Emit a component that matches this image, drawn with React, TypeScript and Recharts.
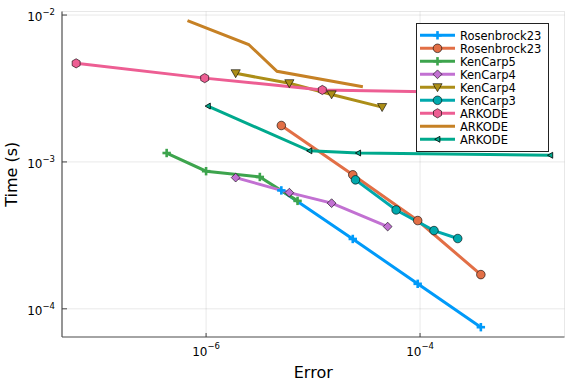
import { CartesianGrid, Legend, Line, LineChart, XAxis, YAxis } from "recharts";

const FONT = "DejaVu Sans, Verdana, sans-serif";

// error (x) / time (y) pairs
const rosenbrockErr = [5.05e-6, 2.35e-5, 9.5e-5, 3.7e-4];
const rosenbrockTimeA = [6.4e-4, 2.99e-4, 1.48e-4, 7.5e-5];
const rosenbrockTimeB = [1.77e-3, 8.17e-4, 3.99e-4, 1.71e-4];
const kenCarp5Err = [4.28e-7, 1.0e-6, 3.18e-6, 7.16e-6];
const kenCarp5Time = [1.15e-3, 8.65e-4, 7.9e-4, 5.43e-4];
const kenCarp4ErrA = [1.89e-6, 6.0e-6, 1.49e-5, 4.98e-5];
const kenCarp4TimeA = [7.82e-4, 6.18e-4, 5.24e-4, 3.63e-4];
const kenCarp4ErrB = [1.89e-6, 6.0e-6, 1.49e-5, 4.42e-5];
const kenCarp4TimeB = [4.01e-3, 3.43e-3, 2.88e-3, 2.36e-3];
const kenCarp3Err = [2.49e-5, 5.97e-5, 1.35e-4, 2.25e-4];
const kenCarp3Time = [7.55e-4, 4.71e-4, 3.41e-4, 3.01e-4];
const arkodeErrA = [6.1e-8, 9.7e-7, 1.22e-5, 3.0e-4];
const arkodeTimeA = [4.69e-3, 3.72e-3, 3.09e-3, 2.97e-3];
const arkodeErrB = [6.7e-7, 2.5e-6, 4.6e-6, 2.92e-5];
const arkodeTimeB = [9.15e-3, 6.3e-3, 4.14e-3, 3.25e-3];
const arkodeErrC = [1.04e-6, 9.25e-6, 2.64e-5, 1.65e-3];
const arkodeTimeC = [2.4e-3, 1.19e-3, 1.15e-3, 1.11e-3];

const xTicks = [1e-6, 1e-4];
const yTicks = [1e-4, 1e-3, 1e-2];
const xDomain = [4.5e-8, 2.239e-3];
const yDomain = [6.43e-5, 1.057e-2];

type Shape = "cross" | "circle" | "diamond" | "dtriangle" | "hexagon" | "ltriangle" | "none";

const series = [
  { name: "Rosenbrock23", err: rosenbrockErr, time: rosenbrockTimeA, color: "#009af9", shape: "cross" },
  { name: "Rosenbrock23", err: rosenbrockErr, time: rosenbrockTimeB, color: "#e26f46", shape: "circle" },
  { name: "KenCarp5", err: kenCarp5Err, time: kenCarp5Time, color: "#3da44d", shape: "cross" },
  { name: "KenCarp4", err: kenCarp4ErrA, time: kenCarp4TimeA, color: "#c271d2", shape: "diamond" },
  { name: "KenCarp4", err: kenCarp4ErrB, time: kenCarp4TimeB, color: "#ac8e18", shape: "dtriangle" },
  { name: "KenCarp3", err: kenCarp3Err, time: kenCarp3Time, color: "#00a9ad", shape: "circle" },
  { name: "ARKODE", err: arkodeErrA, time: arkodeTimeA, color: "#ed5e93", shape: "hexagon" },
  { name: "ARKODE", err: arkodeErrB, time: arkodeTimeB, color: "#c68125", shape: "none" },
  { name: "ARKODE", err: arkodeErrC, time: arkodeTimeC, color: "#00a98d", shape: "ltriangle" },
].map((s) => ({
  ...s,
  shape: s.shape as Shape,
  points: s.err.map((x, i) => ({ x, y: s.time[i] })),
}));

function Marker({ cx, cy, shape, color }: { cx: number; cy: number; shape: Shape; color: string }) {
  const edge = { stroke: "#000", strokeWidth: 0.6 };
  switch (shape) {
    case "cross": {
      const h = 4.2;
      const t = 2.6;
      return (
        <g fill={color}>
          <rect x={cx - h} y={cy - t / 2} width={2 * h} height={t} />
          <rect x={cx - t / 2} y={cy - h} width={t} height={2 * h} />
        </g>
      );
    }
    case "circle":
      return <circle cx={cx} cy={cy} r={4.3} fill={color} {...edge} />;
    case "diamond": {
      const d = 4.4;
      return (
        <polygon
          points={`${cx},${cy - d} ${cx + d},${cy} ${cx},${cy + d} ${cx - d},${cy}`}
          fill={color}
          {...edge}
        />
      );
    }
    case "dtriangle":
      return (
        <polygon
          points={`${cx - 4.6},${cy - 3.6} ${cx + 4.6},${cy - 3.6} ${cx},${cy + 4.4}`}
          fill={color}
          {...edge}
        />
      );
    case "hexagon": {
      const r = 4.6;
      const pts = [0, 1, 2, 3, 4, 5]
        .map((k) => {
          const a = (Math.PI / 3) * k + Math.PI / 6;
          return `${cx + r * Math.cos(a)},${cy + r * Math.sin(a)}`;
        })
        .join(" ");
      return <polygon points={pts} fill={color} {...edge} />;
    }
    case "ltriangle":
      return (
        <polygon
          points={`${cx - 2.8},${cy} ${cx + 2.4},${cy - 3} ${cx + 2.4},${cy + 3}`}
          fill={color}
          stroke="#000"
          strokeWidth={0.8}
        />
      );
    default:
      return null;
  }
}

function XTick({ x, y, payload }: any) {
  const exp = Math.round(Math.log10(payload.value));
  return (
    <g>
      <line x1={x} x2={x} y1={y} y2={y - 4} stroke="#444" />
      <text x={x} y={y + 19} textAnchor="middle" fontFamily={FONT} fontSize={12} fill="#000">
        10
        <tspan dy={-7} fontSize={8.5}>{`\u2212${-exp}`}</tspan>
      </text>
    </g>
  );
}

function YTick({ x, y, payload }: any) {
  const exp = Math.round(Math.log10(payload.value));
  return (
    <g>
      <line x1={x} x2={x + 5} y1={y} y2={y} stroke="#444" />
      <text x={x - 7} y={y + 6} textAnchor="end" fontFamily={FONT} fontSize={12} fill="#000">
        10
        <tspan dy={-6} fontSize={8.5}>{`\u2212${-exp}`}</tspan>
      </text>
    </g>
  );
}

function LegendBox() {
  return (
    <div style={{ background: "#fff", border: "1px solid #222", width: 131, height: 127 }}>
      <svg width={131} height={127}>
        {series.map((s, i) => {
          const cy = 11.3 + i * 13;
          return (
            <g key={i}>
              <line x1={3} x2={38} y1={cy} y2={cy} stroke={s.color} strokeWidth={3} />
              <Marker cx={20.5} cy={cy} shape={s.shape} color={s.color} />
              <text x={43} y={cy + 4.2} fontFamily={FONT} fontSize={11.5} fill="#000">
                {s.name}
              </text>
            </g>
          );
        })}
      </svg>
    </div>
  );
}

export default function App() {
  return (
    <div style={{ position: "absolute", left: 0, top: 0, background: "#fff" }}>
      <LineChart width={576} height={384} margin={{ top: 11.5, right: 11.5, bottom: 0, left: 0 }}>
        <CartesianGrid stroke="#000" strokeOpacity={0.09} strokeWidth={1} />
        <XAxis
          dataKey="x"
          type="number"
          scale="log"
          domain={xDomain}
          allowDataOverflow
          ticks={xTicks}
          height={47}
          tickSize={0}
          tickMargin={0}
          tickLine={false}
          stroke="#555"
          strokeWidth={1.2}
          tick={<XTick />}
          label={{ value: "Error", position: "insideBottom", offset: 6.5, fontSize: 16, fontFamily: FONT, fill: "#000" }}
        />
        <YAxis
          dataKey="y"
          type="number"
          scale="log"
          domain={yDomain}
          allowDataOverflow
          ticks={yTicks}
          width={62}
          tickSize={0}
          tickMargin={0}
          tickLine={false}
          stroke="#555"
          strokeWidth={1.2}
          tick={<YTick />}
          label={{
            value: "Time (s)",
            angle: -90,
            position: "insideLeft",
            offset: 11,
            fontSize: 16,
            fontFamily: FONT,
            fill: "#000",
            style: { textAnchor: "middle" },
          }}
        />
        {series.map((s, i) => (
          <Line
            key={i}
            data={s.points}
            dataKey="y"
            name={s.name}
            type="linear"
            stroke={s.color}
            strokeWidth={3}
            isAnimationActive={false}
            activeDot={false}
            dot={
              s.shape === "none"
                ? false
                : (p: any) => <Marker key={p.index} cx={p.cx} cy={p.cy} shape={s.shape} color={s.color} />
            }
          />
        ))}
        <Legend
          layout="horizontal"
          verticalAlign="middle"
          align="center"
          wrapperStyle={{ left: 416, top: 23, width: "auto" }}
          content={() => <LegendBox />}
        />
      </LineChart>
    </div>
  );
}
